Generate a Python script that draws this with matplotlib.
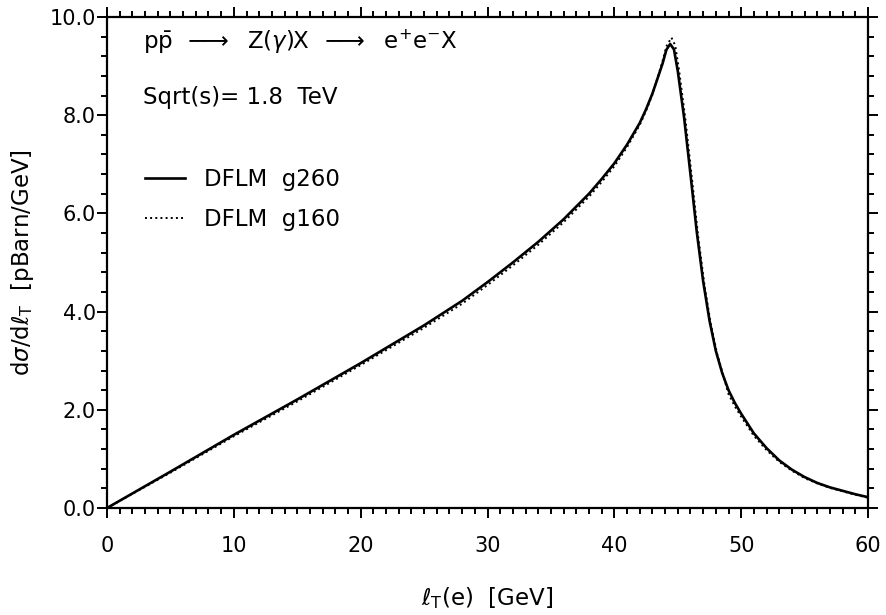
import numpy as np
import matplotlib.pyplot as plt
from matplotlib.ticker import MultipleLocator, FormatStrFormatter

plt.rcParams['font.family'] = ['DejaVu Sans']
plt.rcParams['mathtext.fontset'] = 'dejavusans'

# l_T(e) [GeV] 和 dσ/dl_T [pBarn/GeV]
lt_260 = [0, 5, 10, 15, 20, 25, 28, 30, 32, 34, 36, 38, 39, 40, 41, 42, 42.5, 43, 43.5,
          43.8, 44.1, 44.4, 44.7, 45.0, 45.5, 46.0, 46.5, 47.0, 47.5, 48.0, 48.5, 49.0,
          49.5, 50.0, 51.0, 52.0, 53.0, 54.0, 55.0, 56.0, 57.0, 58.0, 59.0, 60.0]
sig_260 = [0, 0.74, 1.49, 2.21, 2.95, 3.72, 4.22, 4.60, 5.00, 5.42, 5.88, 6.40, 6.70, 7.02,
           7.40, 7.84, 8.12, 8.44, 8.82, 9.05, 9.33, 9.45, 9.34, 8.90, 7.95, 6.80, 5.62,
           4.62, 3.82, 3.20, 2.75, 2.40, 2.14, 1.92, 1.52, 1.22, 0.97, 0.78, 0.63, 0.51,
           0.42, 0.35, 0.28, 0.22]

lt_160 = [0, 5, 10, 15, 20, 25, 28, 30, 32, 34, 36, 38, 39, 40, 41, 42, 42.5, 43, 43.5,
          43.8, 44.1, 44.5, 44.8, 45.1, 45.6, 46.1, 46.6, 47.1, 47.6, 48.1, 48.6, 49.0,
          49.5, 50.0, 51.0, 52.0, 53.0, 54.0, 55.0, 56.0, 57.0, 58.0, 59.0, 60.0]
sig_160 = [0, 0.72, 1.46, 2.17, 2.91, 3.67, 4.16, 4.54, 4.94, 5.36, 5.82, 6.34, 6.64, 6.96,
           7.35, 7.80, 8.09, 8.42, 8.84, 9.10, 9.40, 9.58, 9.42, 8.92, 7.92, 6.75, 5.55,
           4.55, 3.75, 3.14, 2.69, 2.32, 2.07, 1.86, 1.47, 1.18, 0.94, 0.76, 0.61, 0.50,
           0.41, 0.34, 0.27, 0.21]

fig = plt.figure(figsize=(8.86, 6.15), dpi=100)
ax = fig.add_axes([0.1208, 0.174, 0.8589, 0.7984])

ax.plot(lt_260, sig_260, color='black', linewidth=1.9, linestyle='-', label='DFLM  g260')
ax.plot(lt_160, sig_160, color='black', linewidth=1.4, linestyle=':', label='DFLM  g160')

ax.set_xlim(0, 60)
ax.set_ylim(0, 10)

ax.xaxis.set_major_locator(MultipleLocator(10))
ax.xaxis.set_minor_locator(MultipleLocator(1))
ax.yaxis.set_major_locator(MultipleLocator(2))
ax.yaxis.set_minor_locator(MultipleLocator(0.4))
ax.yaxis.set_major_formatter(FormatStrFormatter('%.1f'))

for s in ax.spines.values():
    s.set_linewidth(1.6)

ax.tick_params(axis='both', which='both', direction='out', top=True, right=True,
               width=1.4, labelsize=15)
ax.tick_params(axis='both', which='major', length=7)
ax.tick_params(axis='both', which='minor', length=4)
ax.tick_params(axis='x', which='major', pad=13)
ax.tick_params(axis='y', which='major', pad=1)

ax.set_xlabel(r'$\ell_{\rm T}$(e)  [GeV]', fontsize=16.5, labelpad=21)
ax.set_ylabel(r'd$\sigma$/d$\ell_{\rm T}$  [pBarn/GeV]', fontsize=16.5, labelpad=10)

arrow = r'$-\!\!\!\!\longrightarrow$'
ax.text(0.047, 0.949,
        r'p$\bar{\rm p}$  ' + arrow + r'  Z($\gamma$)X  ' + arrow + r'  e$^{+}$e$^{-}$X',
        transform=ax.transAxes, fontsize=16.5, va='center', ha='left')
ax.text(0.047, 0.835, 'Sqrt(s)= 1.8  TeV', transform=ax.transAxes,
        fontsize=16.5, va='center', ha='left')

ax.legend(loc='upper left', bbox_to_anchor=(0.05, 0.693), frameon=False, fontsize=16.5,
          borderpad=0, borderaxespad=0, handlelength=1.75, handletextpad=0.8, labelspacing=0.75)

fig.savefig('out.png', dpi=100)
